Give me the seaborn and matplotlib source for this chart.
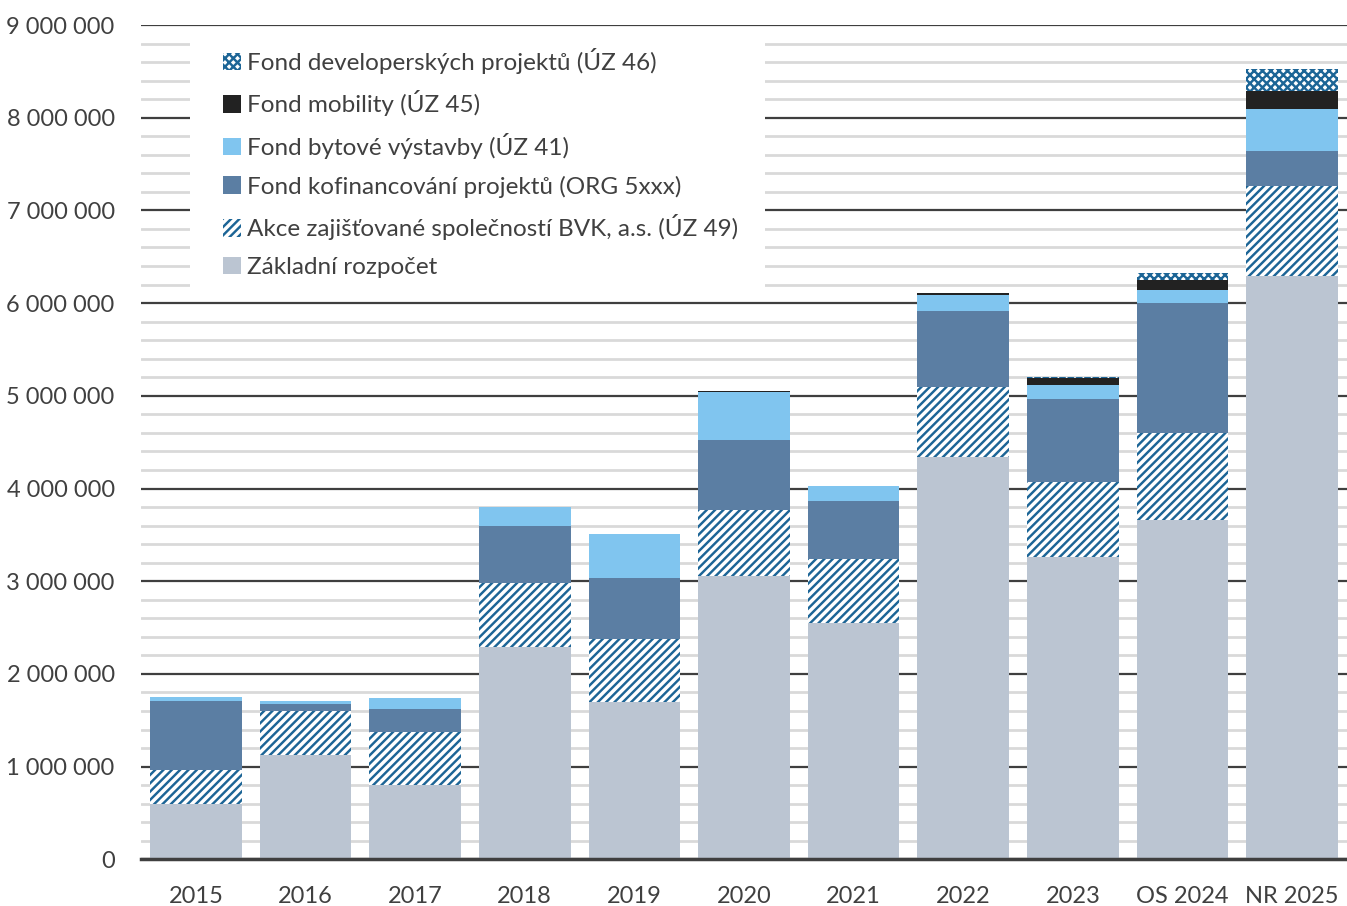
import matplotlib
matplotlib.use("Agg")
import matplotlib.pyplot as plt
from matplotlib.patches import Patch, Rectangle
from matplotlib.ticker import MultipleLocator, FuncFormatter
import numpy as np
import pandas as pd
import seaborn as sns

categories = ["2015", "2016", "2017", "2018", "2019", "2020", "2021", "2022", "2023", "OS 2024", "NR 2025"]
zakladni = [600000, 1126000, 802000, 2287000, 1699000, 3052000, 2549000, 4337000, 3265000, 3657000, 6292000]
bvk = [365000, 479000, 569000, 694000, 677000, 720000, 694000, 760000, 810000, 943000, 972000]
kofinancovani = [748000, 69000, 252000, 611000, 659000, 756000, 626000, 817000, 896000, 1400000, 377000]
bytove = [40000, 35000, 116000, 205000, 475000, 511000, 162000, 172000, 148000, 140000, 458000]
mobility = [0, 0, 0, 0, 0, 8000, 0, 26000, 73000, 105000, 191000]
developer = [0, 0, 0, 0, 0, 0, 0, 0, 15000, 76000, 233000]

series_names = [
    "Základní rozpočet",
    "Akce zajišťované společností BVK, a.s. (ÚZ 49)",
    "Fond kofinancování projektů (ORG 5xxx)",
    "Fond bytové výstavby (ÚZ 41)",
    "Fond mobility (ÚZ 45)",
    "Fond developerských projektů (ÚZ 46)",
]
series_values = [zakladni, bvk, kofinancovani, bytove, mobility, developer]
face_colors = ["#BBC5D2", "white", "#5B7EA3", "#80C5EF", "#222222", "white"]
hatches = [None, "////", None, None, None, "xxxx"]
hatch_color = "#1C6596"

sns.set_theme(style="white")
plt.rcParams["font.family"] = ["Lato", "DejaVu Sans"]
plt.rcParams["hatch.linewidth"] = 1.75
plt.rcParams["hatch.color"] = hatch_color

fig = plt.figure(figsize=(13.47, 9.06), dpi=100)
ax = fig.add_axes([0.1047, 0.0515, 0.8953, 0.9209])

# cumulative stacks, drawn from the tallest down
cum = np.cumsum(np.array(series_values, dtype=float), axis=0)
for i in range(len(series_values) - 1, -1, -1):
    df = pd.DataFrame({"cat": categories, "val": cum[i]})
    kws = dict(linewidth=0)
    if hatches[i]:
        kws.update(hatch=hatches[i], edgecolor=hatch_color)
    else:
        kws.update(edgecolor="none")
    sns.barplot(data=df, x="cat", y="val", color=face_colors[i], saturation=1,
                width=0.836, ax=ax, **kws)

ax.set_xlim(-0.5, len(categories) - 0.5)
ax.set_ylim(0, 9000000)
ax.yaxis.set_major_locator(MultipleLocator(1000000))
ax.yaxis.set_minor_locator(MultipleLocator(200000))
ax.yaxis.set_major_formatter(FuncFormatter(lambda v, p: f"{v:,.0f}".replace(",", " ")))
ax.grid(which="minor", axis="y", color="#D9D9D9", linewidth=2)
ax.grid(which="major", axis="y", color="#3F3F3F", linewidth=1.6)
ax.set_axisbelow(True)
ax.set_xlabel("")
ax.set_ylabel("")
for s in ["top", "right", "left"]:
    ax.spines[s].set_visible(False)
ax.spines["bottom"].set_color("#3F3F3F")
ax.spines["bottom"].set_linewidth(2.5)
ax.tick_params(axis="both", which="both", length=0, labelsize=17, colors="#404040")
ax.tick_params(axis="y", pad=19)
ax.tick_params(axis="x", pad=19)

# white legend background box hiding the gridlines
ax.add_patch(Rectangle((190 / 1347, 1 - 287 / 906), (765 - 190) / 1347, (287 - 42) / 906,
                       transform=fig.transFigure, facecolor="white", edgecolor="none", zorder=0.9))

handles = []
for i in range(len(series_values) - 1, -1, -1):
    if hatches[i]:
        handles.append(Patch(facecolor="white", edgecolor=hatch_color, hatch=hatches[i], linewidth=0, label=series_names[i]))
    else:
        handles.append(Patch(facecolor=face_colors[i], edgecolor="none", label=series_names[i]))
leg = ax.legend(handles=handles, loc="upper left", bbox_to_anchor=(212 / 1347, 1 - 37 / 906),
                bbox_transform=fig.transFigure, fontsize=17.5, frameon=False,
                handlelength=0.75, handleheight=0.75,
                handletextpad=0.22, labelspacing=0.68, borderpad=0.45, borderaxespad=0)
for t in leg.get_texts():
    t.set_color("#404040")

fig.savefig("out.png", dpi=100)
